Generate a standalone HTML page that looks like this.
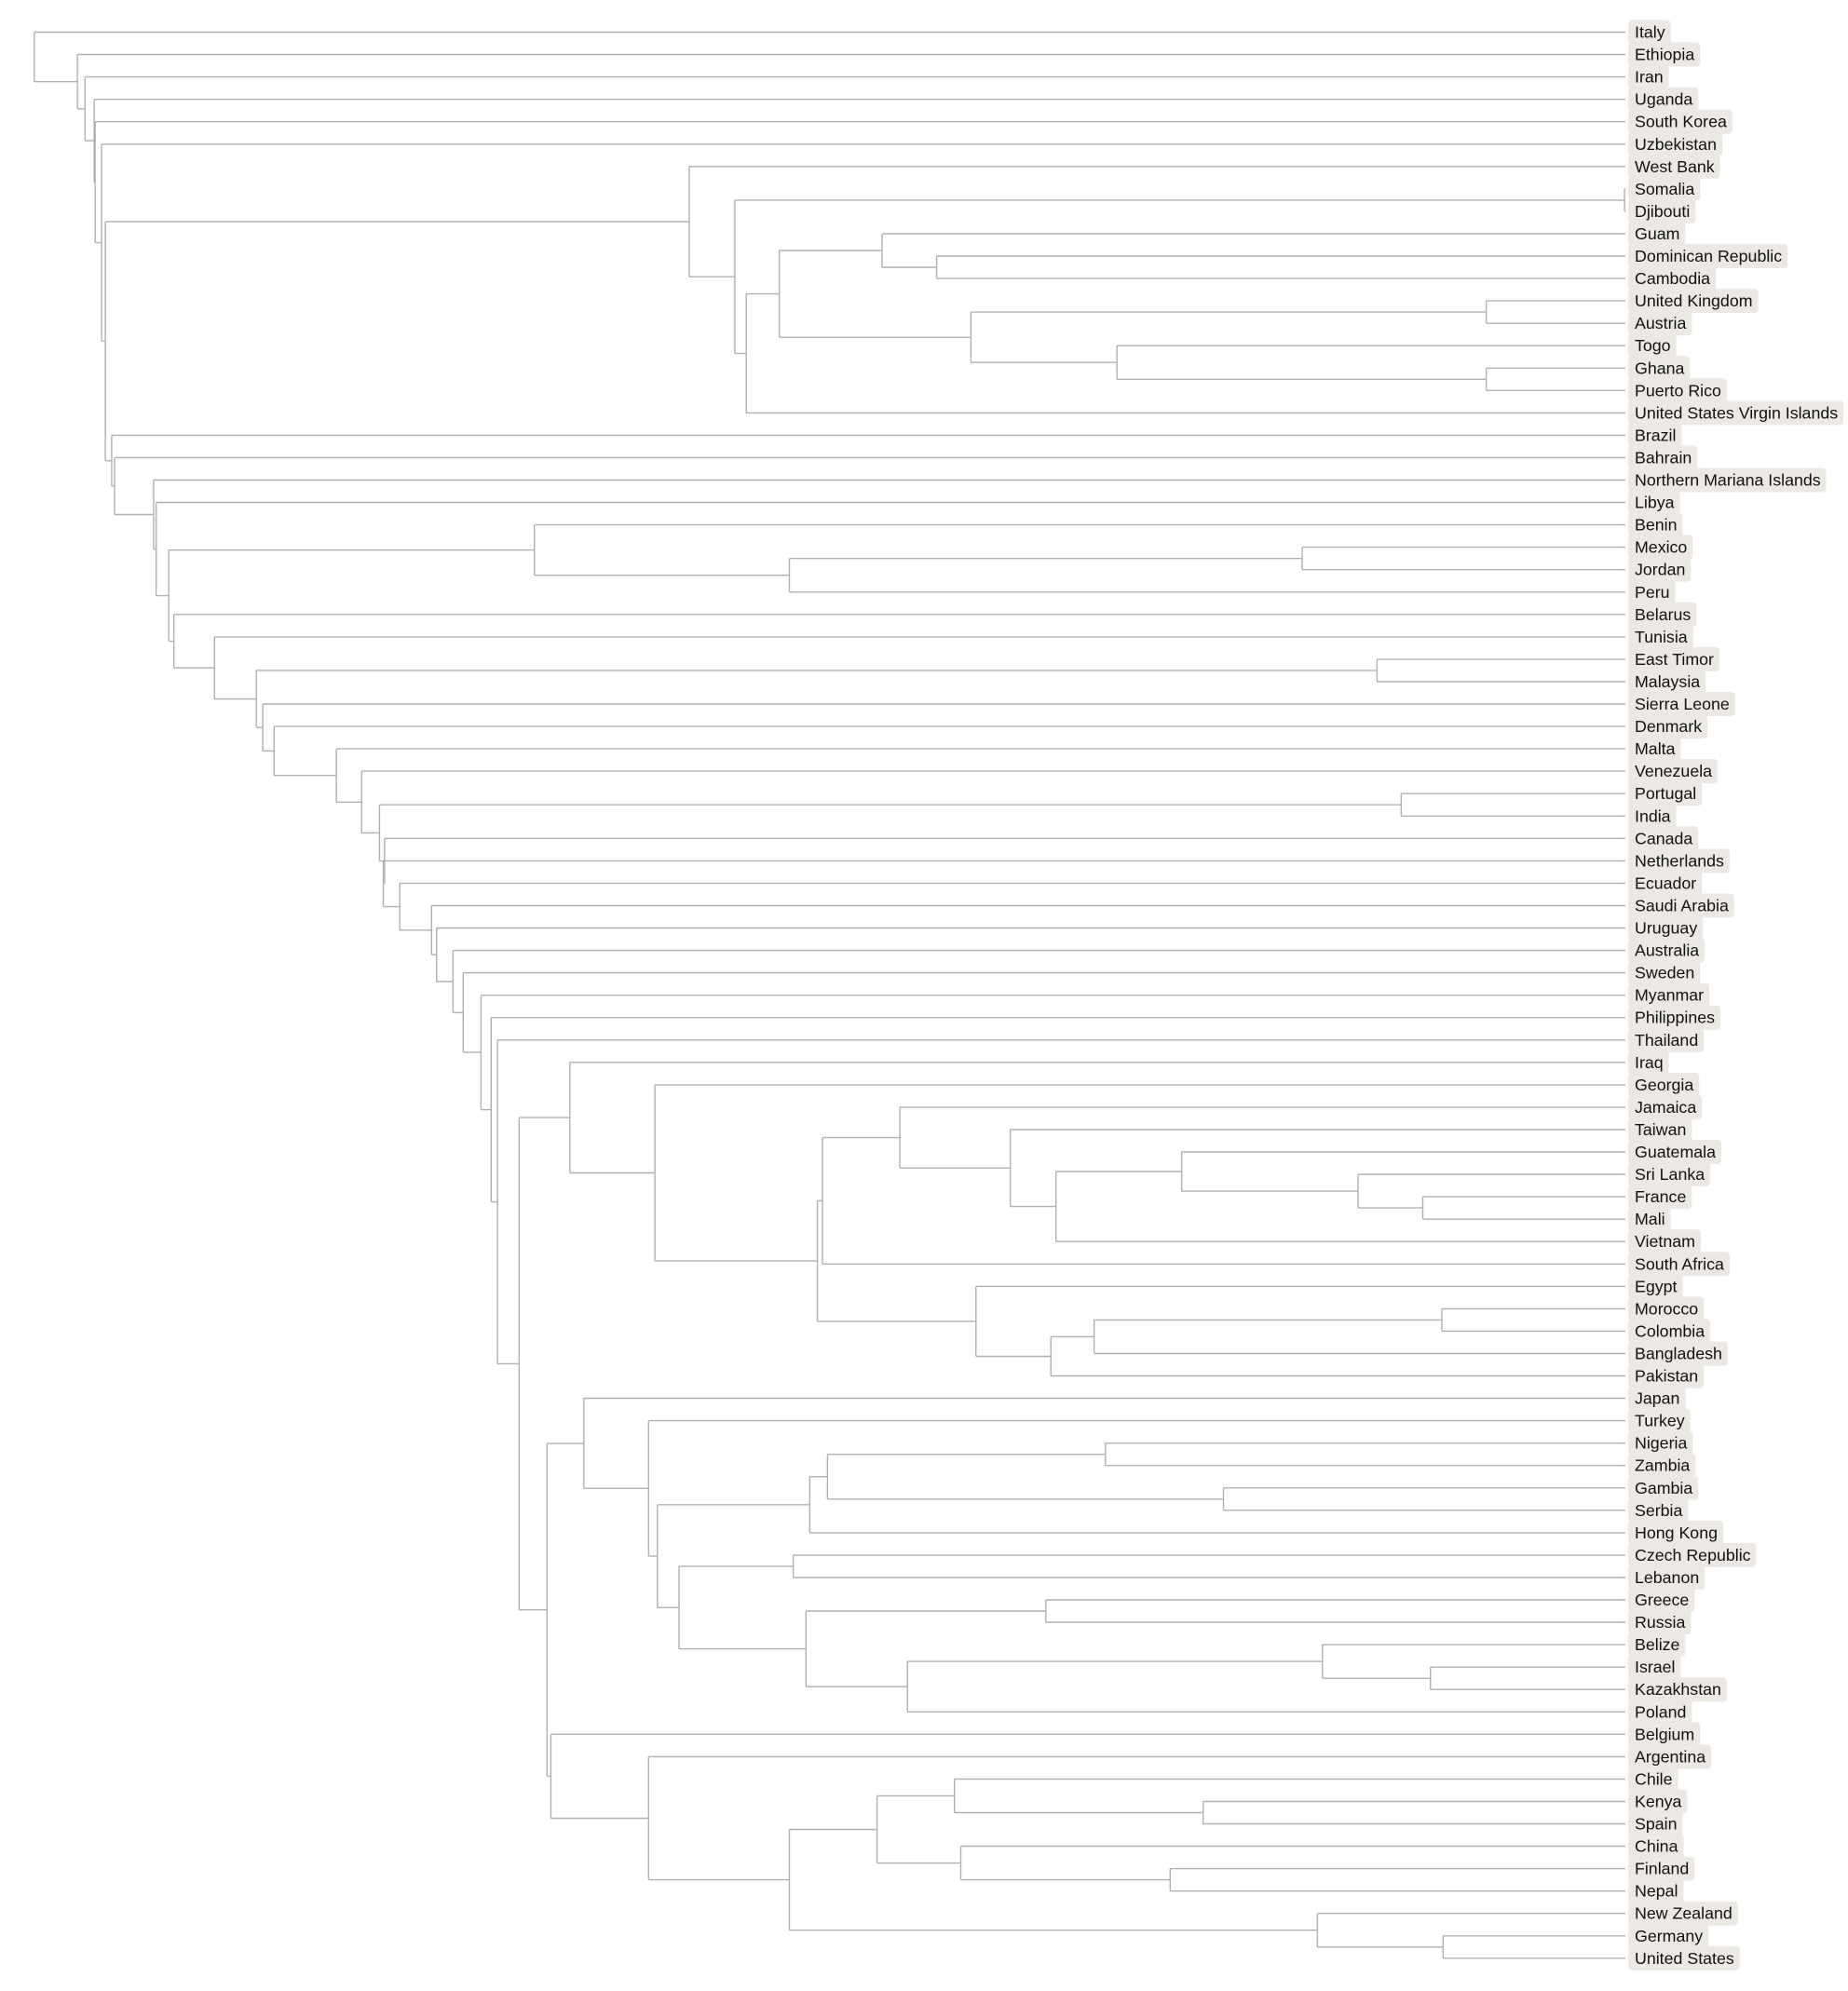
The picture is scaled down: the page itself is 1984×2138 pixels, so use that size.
<!DOCTYPE html>
<html><head><meta charset="utf-8">
<style>
html,body{margin:0;padding:0;background:#fff;}
svg{display:block;}
text{font-family:"Liberation Sans",Arial,sans-serif;font-size:17.8px;fill:#111;}
</style></head>
<body>
<svg id="s" width="1984" height="2138" xmlns="http://www.w3.org/2000/svg"></svg>
<script>
const S=1.3626;
const T=[27,"Italy",[61,"Ethiopia",[67,"Iran",[74.2,"Uganda",[75,"South Korea",[80,"Uzbekistan",
 [83,
  [543,"West Bank",[579,[1280,"Somalia","Djibouti"],[588,[614,[695,"Guam",[738,"Dominican Republic","Cambodia"]],[765,[1171,"United Kingdom","Austria"],[880,"Togo",[1171,"Ghana","Puerto Rico"]]]],"United States Virgin Islands"]]],
  [88,"Brazil",[90.3,"Bahrain",[121,"Northern Mariana Islands",[123,"Libya",[133,[421,"Benin",[622,[1026,"Mexico","Jordan"],"Peru"]],
   [137,"Belarus",[169,"Tunisia",[202,[1085,"East Timor","Malaysia"],[207,"Sierra Leone",[216,"Denmark",[265,"Malta",[285,"Venezuela",[299,[1104,"Portugal","India"],
   [303,"Canada",[302,"Netherlands",[315,"Ecuador",[340,"Saudi Arabia",[344,"Uruguay",[357,"Australia",[365,"Sweden",[379,"Myanmar",[387,"Philippines",[392,"Thailand",
    [409,
     [449,"Iraq",[516,"Georgia",[644,[648,[709,"Jamaica",[796,"Taiwan",[832,[931,"Guatemala",[1070,"Sri Lanka",[1121,"France","Mali"]]],"Vietnam"]]],"South Africa"],[769,"Egypt",[828,[862,[1136,"Morocco","Colombia"],"Bangladesh"],"Pakistan"]]]]],
     [431,[460,"Japan",[511,"Turkey",[518,[638,[652,[871,"Nigeria","Zambia"],[964,"Gambia","Serbia"]],"Hong Kong"],[535,[625,"Czech Republic","Lebanon"],[635,[824,"Greece","Russia"],[715,[1042,"Belize",[1127,"Israel","Kazakhstan"]],"Poland"]]]]]],
      [434,"Belgium",[511,"Argentina",[622,[691,[752,"Chile",[948,"Kenya","Spain"]],[757,"China",[922,"Finland","Nepal"]]],[1038,"New Zealand",[1137,"Germany","United States"]]]]]]
    ]]]]]]]]]]]]]]]]]]]]]]]]]]]]]]];
const LX=1745;let idx=0;let lines=[];let labels=[];
function st(){return 'stroke="#b0b0b0" stroke-width="1.4" fill="none"';}
function walk(n){
 if(typeof n==="string"){const y=34.5+idx*24.05;idx++;
  labels.push({n:n,y:y});
  return {x:LX,y:y};}
 const x=n[0]*S;const ch=n.slice(1).map(walk);
 ch.forEach(c=>lines.push(`<line x1="${x.toFixed(1)}" y1="${c.y.toFixed(1)}" x2="${c.x.toFixed(1)}" y2="${c.y.toFixed(1)}" ${st()}/>`));
 const y0=ch[0].y,y1=ch[ch.length-1].y;
 lines.push(`<line x1="${x.toFixed(1)}" y1="${y0.toFixed(1)}" x2="${x.toFixed(1)}" y2="${y1.toFixed(1)}" ${st()}/>`);
 return {x:x,y:(y0+y1)/2};
}
walk(T);
const svg=document.getElementById("s");
let out=lines.slice();
labels.forEach(l=>{out.push(`<rect class="b" x="1748" y="${(l.y-13).toFixed(1)}" width="60" height="26" rx="4" fill="#ece8e4"/>`);
 out.push(`<text x="1755" y="${(l.y+6).toFixed(1)}">${l.n}</text>`);});
svg.innerHTML=out.join("");
const rs=svg.querySelectorAll("rect.b"),ts=svg.querySelectorAll("text");
ts.forEach((t,i)=>{const w=t.getComputedTextLength();rs[i].setAttribute("width",(w+13).toFixed(1));});
</script>
</body></html>
